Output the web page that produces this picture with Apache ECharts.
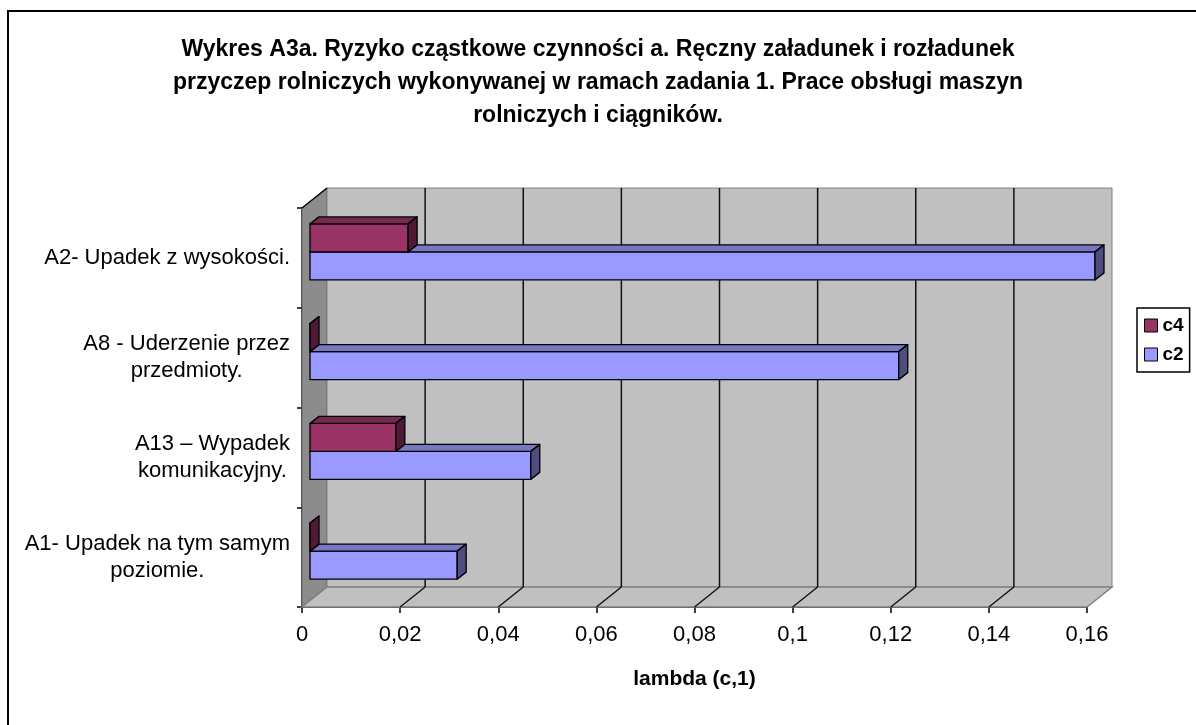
<!DOCTYPE html>
<html>
<head>
<meta charset="UTF-8">
<title>Wykres A3a</title>
<script src="https://cdn.jsdelivr.net/npm/echarts@6/dist/echarts.min.js"></script>
<style>
html, body { margin: 0; padding: 0; background: #fff; }
#chart { width: 1196px; height: 725px; }
</style>
</head>
<body>
<div id="chart"></div>
<script>
// kategorie od dołu do góry
var categories = [
  'A1- Upadek na tym samym\npoziomie.',
  'A13 – Wypadek\nkomunikacyjny.',
  'A8 - Uderzenie przez\nprzedmioty.',
  'A2- Upadek z wysokości.'
];
var c2Values = [0.030, 0.045, 0.120, 0.160];
var c4Values = [0, 0.0175, 0, 0.020];
var seriesNames = ['c4', 'c2'];
var xMin = 0, xMax = 0.16, xStep = 0.02;

var FONT = "'Liberation Sans', Arial, sans-serif";
var DEPTH_X = 25, DEPTH_Y = -20;   // glebokosc scian
var BAR_X = 8, BAR_Y = -6;         // przesuniecie slupkow w glab
var BOX_X = 9, BOX_Y = -7;         // grubosc slupka 3D
var BAR_H = 28;

var chart = echarts.init(document.getElementById('chart'));

// sciany, podloga i linie siatki
function renderWalls(params, api) {
  var cs = params.coordSys;
  var L = cs.x, T = cs.y, R = cs.x + cs.width, B = cs.y + cs.height;
  var dx = DEPTH_X, dy = DEPTH_Y;
  var children = [];
  children.push({
    type: 'polygon',
    shape: { points: [[L, T], [L + dx, T + dy], [L + dx, B + dy], [L, B]] },
    style: { fill: '#8c8c8c', stroke: '#666', lineWidth: 1 }
  });
  children.push({
    type: 'rect',
    shape: { x: L + dx, y: T + dy, width: R - L, height: B - T },
    style: { fill: '#c0c0c0', stroke: '#808080', lineWidth: 1 }
  });
  children.push({
    type: 'polygon',
    shape: { points: [[L, B], [R, B], [R + dx, B + dy], [L + dx, B + dy]] },
    style: { fill: '#c0c0c0', stroke: '#808080', lineWidth: 1.5 }
  });
  children.push({
    type: 'line',
    shape: { x1: L, y1: T, x2: L + dx, y2: T + dy },
    style: { stroke: '#000', lineWidth: 1.5 }
  });
  for (var i = 1; i * xStep < xMax - 1e-9; i++) {
    var x = api.coord([i * xStep, 0])[0];
    children.push({
      type: 'line',
      shape: { x1: x + dx, y1: T + dy, x2: x + dx, y2: B + dy },
      style: { stroke: '#111', lineWidth: 1.5 }
    });
    children.push({
      type: 'line',
      shape: { x1: x, y1: B, x2: x + dx, y2: B + dy },
      style: { stroke: '#111', lineWidth: 1.5 }
    });
  }
  return { type: 'group', children: children };
}

function makeBox(offsetY, front, top, side) {
  return function (params, api) {
    var v = api.value(0), cat = api.value(1);
    var a = api.coord([0, cat]), b = api.coord([v, cat]);
    var x0 = a[0] + BAR_X, x1 = b[0] + BAR_X;
    var y0 = a[1] + BAR_Y + offsetY, y1 = y0 + BAR_H;
    var st = { stroke: '#000', lineWidth: 1.3, lineJoin: 'round' };
    return {
      type: 'group',
      children: [
        { type: 'polygon', shape: { points: [[x0, y0], [x1, y0], [x1, y1], [x0, y1]] },
          style: Object.assign({ fill: front }, st) },
        { type: 'polygon', shape: { points: [[x0, y0], [x1, y0], [x1 + BOX_X, y0 + BOX_Y], [x0 + BOX_X, y0 + BOX_Y]] },
          style: Object.assign({ fill: top }, st) },
        { type: 'polygon', shape: { points: [[x1, y0], [x1 + BOX_X, y0 + BOX_Y], [x1 + BOX_X, y1 + BOX_Y], [x1, y1]] },
          style: Object.assign({ fill: side }, st) }
      ]
    };
  };
}

var option = {
  backgroundColor: '#fff',
  animation: false,
  textStyle: { fontFamily: FONT },
  title: {
    text: 'Wykres A3a. Ryzyko cząstkowe czynności a. Ręczny załadunek i rozładunek\n' +
          'przyczep rolniczych wykonywanej w ramach zadania 1. Prace obsługi maszyn\n' +
          'rolniczych i ciągników.',
    left: 'center',
    top: 28,
    textStyle: { fontFamily: FONT, fontSize: 23, fontWeight: 'bold', color: '#000', lineHeight: 33 }
  },
  legend: {
    data: seriesNames,
    orient: 'vertical',
    left: 1137,
    top: 308,
    icon: 'rect',
    itemWidth: 13,
    itemHeight: 13,
    itemGap: 10,
    itemTextGap: 6,
    padding: [8, 6, 8, 7],
    borderColor: '#000',
    borderWidth: 1.5,
    backgroundColor: '#fff',
    itemStyle: { borderColor: '#000', borderWidth: 1 },
    textStyle: { fontFamily: FONT, fontSize: 19, fontWeight: 'bold', color: '#000' }
  },
  grid: { left: 302, top: 208, width: 785, height: 399 },
  xAxis: {
    type: 'value',
    min: xMin,
    max: xMax,
    interval: xStep,
    name: 'lambda (c,1)',
    nameLocation: 'middle',
    nameGap: 62,
    nameTextStyle: { fontFamily: FONT, fontSize: 21, fontWeight: 'bold', color: '#000' },
    axisLine: { show: true, lineStyle: { color: '#000', width: 1.5 } },
    axisTick: { show: true, length: 6, lineStyle: { color: '#000', width: 1.5 } },
    splitLine: { show: false },
    axisLabel: {
      margin: 17,
      fontFamily: FONT,
      fontSize: 22,
      color: '#000',
      formatter: function (v) { return String(+v.toFixed(4)).replace('.', ','); }
    }
  },
  yAxis: {
    type: 'category',
    data: categories,
    axisLine: { show: true, lineStyle: { color: '#000', width: 1.5 } },
    axisTick: { show: true, length: 5, lineStyle: { color: '#000', width: 1.5 } },
    splitLine: { show: false },
    axisLabel: {
      margin: 12,
      fontFamily: FONT,
      fontSize: 22,
      color: '#000',
      lineHeight: 27,
      formatter: function (v) {
        return v.split('\n').map(function (l) { return '{c|' + l + '}'; }).join('\n');
      },
      rich: { c: { align: 'center', fontFamily: FONT, fontSize: 22, color: '#000', lineHeight: 27 } }
    }
  },
  graphic: [{
    type: 'rect',
    shape: { x: 8, y: 11, width: 1200, height: 730 },
    style: { fill: 'none', stroke: '#000', lineWidth: 2 },
    z: 100
  }],
  series: [
    {
      type: 'custom',
      name: 'walls',
      renderItem: renderWalls,
      data: [[0, 0]],
      encode: { x: 0, y: 1 },
      z: 1,
      silent: true
    },
    {
      type: 'custom',
      name: 'c2',
      renderItem: makeBox(0, '#9999ff', '#7777c4', '#4d4d80'),
      data: c2Values.map(function (v, i) { return [v, i]; }),
      encode: { x: 0, y: 1 },
      itemStyle: { color: '#9999ff', borderColor: '#000', borderWidth: 1 },
      z: 2
    },
    {
      type: 'custom',
      name: 'c4',
      renderItem: makeBox(-BAR_H, '#993366', '#772850', '#4f1a36'),
      data: c4Values.map(function (v, i) { return [v, i]; }),
      encode: { x: 0, y: 1 },
      itemStyle: { color: '#993366', borderColor: '#000', borderWidth: 1 },
      z: 3
    }
  ]
};

chart.setOption(option);
</script>
</body>
</html>
